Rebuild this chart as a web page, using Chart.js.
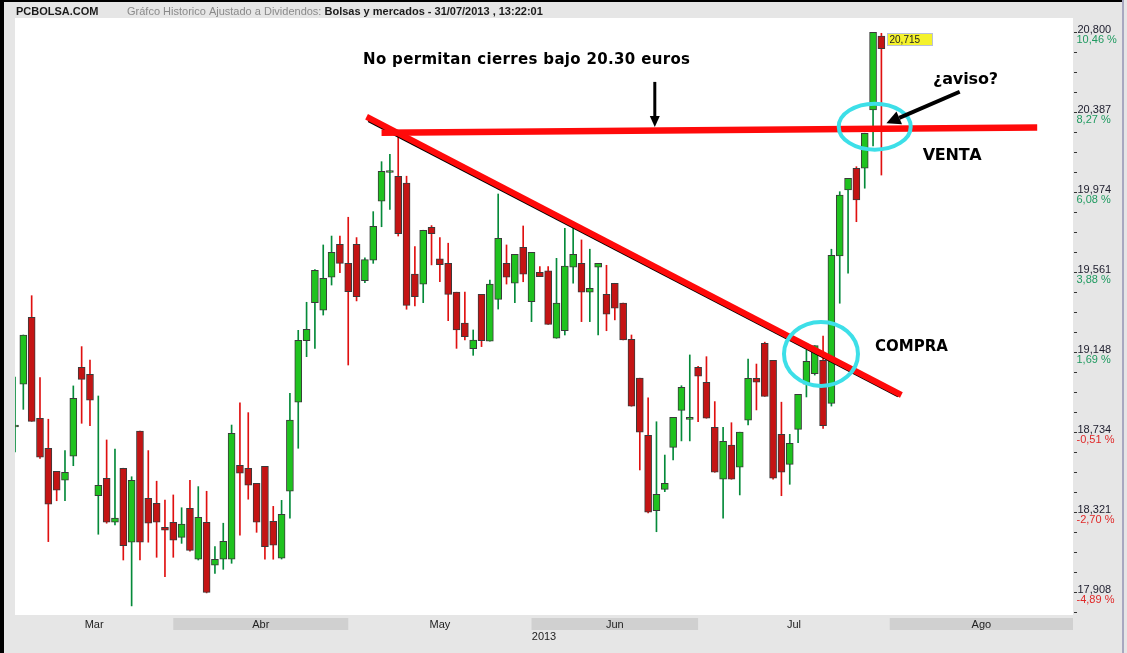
<!DOCTYPE html>
<html>
<head>
<meta charset="utf-8">
<script src="https://cdn.jsdelivr.net/npm/chart.js@4.4.0/dist/chart.umd.min.js"></script>
<style>
  html, body { margin: 0; padding: 0; background: #e6e6e6; }
  canvas { display: block; }
</style>
</head>
<body>
<canvas id="chart" width="1127" height="653"></canvas>
<script>
// ================= Data =================
// one candle per trading day, 4 Mar 2013 .. 31 Jul 2013
const opens = [
  18.762, 18.983, 19.328, 18.807, 18.652, 18.533, 18.487, 18.611, 19.070, 19.034,
  18.407, 18.497, 18.270, 18.549, 18.167, 18.741, 18.394, 18.368, 18.244, 18.270,
  18.192, 18.342, 18.079, 18.270, 18.048, 18.079, 18.079, 18.564, 18.549, 18.471,
  18.559, 18.275, 18.084, 18.430, 18.890, 19.208, 19.404, 19.365, 19.535, 19.705,
  19.607, 19.705, 19.518, 19.624, 19.928, 20.076, 20.057, 20.022, 19.551, 19.499,
  19.793, 19.630, 19.607, 19.458, 19.299, 19.166, 19.447, 19.205, 19.421, 19.607,
  19.504, 19.690, 19.409, 19.561, 19.568, 19.220, 19.259, 19.587, 19.607, 19.458,
  19.587, 19.447, 19.504, 19.402, 19.215, 19.014, 18.719, 18.330, 18.440, 18.657,
  18.848, 18.801, 19.070, 18.993, 18.760, 18.492, 18.668, 18.554, 18.797, 19.013,
  19.194, 19.106, 18.724, 18.569, 18.750, 18.983, 19.037, 19.106, 18.884, 19.645,
  19.986, 20.098, 20.098, 20.399, 20.781
];
const highs = [
  19.020, 19.237, 19.440, 19.017, 18.802, 18.533, 18.640, 18.974, 19.177, 19.108,
  18.922, 18.695, 18.648, 18.549, 18.505, 18.741, 18.640, 18.482, 18.385, 18.411,
  18.345, 18.487, 18.454, 18.430, 18.144, 18.265, 18.772, 18.887, 18.836, 18.471,
  18.559, 18.352, 18.383, 18.936, 19.261, 19.406, 19.575, 19.702, 19.748, 19.748,
  19.845, 19.740, 19.635, 19.874, 20.132, 20.170, 20.275, 20.057, 19.693, 19.778,
  19.802, 19.740, 19.711, 19.458, 19.458, 19.263, 19.447, 19.521, 19.965, 19.702,
  19.654, 19.800, 19.664, 19.590, 19.590, 19.633, 19.788, 19.788, 19.728, 19.680,
  19.607, 19.597, 19.504, 19.402, 19.237, 19.014, 18.913, 18.789, 18.617, 18.812,
  18.975, 19.134, 19.075, 19.125, 18.893, 18.760, 18.784, 18.735, 19.113, 19.087,
  19.200, 19.106, 18.890, 18.724, 18.931, 19.160, 19.182, 19.232, 19.680, 19.977,
  20.046, 20.106, 20.279, 20.800, 20.795
];
const lows = [
  18.633, 18.853, 18.791, 18.600, 18.170, 18.381, 18.381, 18.562, 18.781, 18.769,
  18.208, 18.265, 18.256, 18.075, 17.838, 18.075, 18.167, 18.089, 17.989, 18.089,
  18.161, 18.120, 18.075, 17.905, 18.006, 18.027, 18.058, 18.203, 18.389, 18.218,
  18.079, 18.079, 18.080, 18.291, 18.652, 19.125, 19.168, 19.340, 19.495, 19.559,
  19.082, 19.413, 19.507, 19.607, 19.796, 19.886, 19.748, 19.370, 19.387, 19.404,
  19.599, 19.512, 19.311, 19.168, 19.211, 19.132, 19.177, 19.205, 19.371, 19.500,
  19.404, 19.512, 19.306, 19.538, 19.292, 19.220, 19.237, 19.504, 19.306, 19.306,
  19.237, 19.259, 19.315, 19.211, 18.869, 18.540, 18.318, 18.221, 18.428, 18.592,
  18.690, 18.690, 18.789, 18.807, 18.528, 18.291, 18.492, 18.411, 18.772, 18.850,
  18.920, 18.492, 18.407, 18.466, 18.681, 18.917, 19.030, 18.755, 18.870, 19.401,
  19.556, 19.822, 19.995, 20.213, 20.063
];
const closes = [
  18.764, 19.237, 18.791, 18.606, 18.363, 18.435, 18.528, 18.910, 19.008, 18.900,
  18.461, 18.270, 18.291, 18.149, 18.487, 18.167, 18.265, 18.270, 18.229, 18.177,
  18.260, 18.125, 18.296, 17.908, 18.079, 18.172, 18.729, 18.523, 18.461, 18.270,
  18.144, 18.151, 18.311, 18.797, 19.210, 19.266, 19.571, 19.530, 19.664, 19.607,
  19.461, 19.435, 19.626, 19.798, 20.082, 20.084, 19.760, 19.390, 19.435, 19.778,
  19.760, 19.600, 19.447, 19.263, 19.228, 19.211, 19.208, 19.500, 19.736, 19.535,
  19.654, 19.551, 19.664, 19.538, 19.292, 19.402, 19.593, 19.654, 19.458, 19.478,
  19.607, 19.344, 19.375, 19.211, 18.869, 18.735, 18.322, 18.414, 18.471, 18.812,
  18.967, 18.808, 19.024, 18.807, 18.528, 18.688, 18.492, 18.735, 19.013, 18.993,
  18.920, 18.497, 18.528, 18.678, 18.931, 19.101, 19.182, 18.769, 19.649, 19.960,
  20.046, 19.934, 20.279, 20.800, 20.715
];

// x axis: month names and index of first trading day of each month (Aug is empty)
const monthNames = ['Mar', 'Abr', 'May', 'Jun', 'Jul', 'Ago'];
const monthStarts = [0, 19, 40, 62, 82, 105];
const axisEnd = 127;
const yearLabel = '2013';

// right axis labels: price and % vs reference price
const tickValues = [20.800, 20.387, 19.974, 19.561, 19.148, 18.734, 18.321, 17.908];
const tickPcts = [10.46, 8.27, 6.08, 3.88, 1.69, -0.51, -2.70, -4.89];

// hand drawn annotations (in index / price units)
const resistLine = [{ x: 44.0, y: 20.282 }, { x: 122.7, y: 20.308 }];
const trendLine = [{ x: 42.2, y: 20.364 }, { x: 106.4, y: 18.927 }];
const trendLineOrig = [{ x: 42.4, y: 20.342 }, { x: 106.0, y: 18.920 }];

const noteTexts = [
  { text: 'No permitan cierres bajo 20.30 euros', x: 61.4, y: 20.657, size: 15, width: 327 },
  { text: '¿aviso?', x: 114.1, y: 20.554, size: 16, width: 65 },
  { text: 'VENTA', x: 112.5, y: 20.161, size: 16, width: 59 },
  { text: 'COMPRA', x: 107.6, y: 19.175, size: 15, width: 73 }
];
const noteArrows = [
  { from: [76.8, 20.544], to: [76.8, 20.311], w: 3, head: 11, half: 5 },
  { from: [113.4, 20.493], to: [104.6, 20.330], w: 4, head: 14, half: 7 }
];
const noteEllipses = [
  { x: 103.2, y: 20.313, rx: 36, ry: 23 },
  { x: 96.75, y: 19.139, rx: 37, ry: 32 }
];
const lastLabel = { x: 104.7, y: 20.766 };

// ================= Helpers =================
const UP_BODY = '#1fc21f', DN_BODY = '#c41414';
const UP_WICK = '#058a3a', DN_WICK = '#e01010';
const FONT = '"Liberation Sans", Arial, sans-serif';
const NOTE_FONT = '"DejaVu Sans", Verdana, sans-serif';

function fmt(v, d) {
  return v.toFixed(d).replace('.', ',');
}

function isUp(i) {
  return closes[i] >= opens[i];
}

function spacedText(ctx, str, cx, cy, width) {
  const chars = [...str];
  const natural = chars.reduce((s, c) => s + ctx.measureText(c).width, 0);
  const gap = chars.length > 1 ? (width - natural) / (chars.length - 1) : 0;
  let xx = cx - width / 2;
  ctx.textAlign = 'left';
  chars.forEach(c => {
    ctx.fillText(c, xx, cy);
    xx += ctx.measureText(c).width + gap;
  });
}

function arrow(ctx, x0, y0, x1, y1, w, head, half) {
  const ang = Math.atan2(y1 - y0, x1 - x0);
  const bx = x1 - head * Math.cos(ang), by = y1 - head * Math.sin(ang);
  ctx.lineWidth = w;
  ctx.beginPath();
  ctx.moveTo(x0, y0);
  ctx.lineTo(bx, by);
  ctx.stroke();
  ctx.beginPath();
  ctx.moveTo(x1, y1);
  ctx.lineTo(bx + half * Math.sin(ang), by - half * Math.cos(ang));
  ctx.lineTo(bx - half * Math.sin(ang), by + half * Math.cos(ang));
  ctx.closePath();
  ctx.fill();
}

// ================= Plugin: frame, axes, notes =================
const decor = {
  id: 'decor',
  beforeDraw(chart) {
    const { ctx, chartArea: a, scales: { x, y } } = chart;
    const W = chart.width, H = chart.height;
    ctx.save();
    ctx.fillStyle = '#e6e6e6';
    ctx.fillRect(0, 0, W, H);
    ctx.fillStyle = '#ffffff';
    ctx.fillRect(Math.floor(a.left), a.top, Math.ceil(a.right - a.left), a.bottom - a.top);

    // borders
    ctx.fillStyle = '#000';
    ctx.fillRect(0, 0, 4, H);
    ctx.fillRect(0, 0, W - 5, 2);
    ctx.fillStyle = '#a8a8c0';
    ctx.fillRect(W - 5, 0, 2, H);

    // header
    ctx.textBaseline = 'alphabetic';
    ctx.textAlign = 'left';
    ctx.font = 'bold 11px ' + FONT;
    ctx.fillStyle = '#1a1a1a';
    ctx.fillText('PCBOLSA.COM', 16, 15);
    ctx.font = '11px ' + FONT;
    ctx.fillStyle = '#8a8a8a';
    const t1 = 'Gráfco Historico Ajustado a Dividendos: ';
    ctx.fillText(t1, 127, 15);
    const w1 = ctx.measureText(t1).width;
    ctx.font = 'bold 11px ' + FONT;
    ctx.fillStyle = '#1a1a1a';
    ctx.fillText('Bolsas y mercados - 31/07/2013 , 13:22:01', 127 + w1, 15);

    // month bands
    ctx.textAlign = 'center';
    ctx.textBaseline = 'middle';
    monthNames.forEach((m, k) => {
      const x0 = x.getPixelForValue(monthStarts[k]);
      const x1 = x.getPixelForValue(k + 1 < monthStarts.length ? monthStarts[k + 1] : axisEnd);
      if (k % 2 === 1) {
        ctx.fillStyle = '#d0d0d0';
        ctx.fillRect(x0, a.bottom + 3, x1 - x0, 12);
      }
      ctx.fillStyle = '#222';
      ctx.font = '11px ' + FONT;
      ctx.fillText(m, (x0 + x1) / 2, a.bottom + 9.5);
    });
    ctx.fillText(yearLabel, x.getPixelForValue(axisEnd / 2), a.bottom + 21.5);

    // right price axis
    const step = (tickValues[0] - tickValues[1]) / 4;
    ctx.strokeStyle = '#333';
    ctx.lineWidth = 1;
    tickValues.forEach((t, k) => {
      for (let j = -3; j <= 3; j++) {
        const py = Math.round(y.getPixelForValue(t + j * step)) + 0.5;
        if (py < a.top + 2 || py > a.bottom + 1) continue;
        ctx.beginPath();
        ctx.moveTo(a.right + 1, py);
        ctx.lineTo(a.right + 4, py);
        ctx.stroke();
      }
      const py = y.getPixelForValue(t);
      ctx.textAlign = 'left';
      ctx.textBaseline = 'alphabetic';
      ctx.font = '11px ' + FONT;
      ctx.fillStyle = '#1c1c2c';
      ctx.fillText(fmt(t, 3), a.right + 4.5, py + 1);
      ctx.fillStyle = tickPcts[k] >= 0 ? '#1f9a60' : '#e02828';
      ctx.fillText(fmt(tickPcts[k], 2) + ' %', a.right + 3.5, py + 11);
    });
    ctx.restore();
  },
  afterDatasetsDraw(chart) {
    const { ctx, scales: { x, y } } = chart;
    ctx.save();

    // ellipses
    ctx.strokeStyle = '#3ddfe8';
    ctx.lineWidth = 4;
    noteEllipses.forEach(e => {
      ctx.beginPath();
      ctx.ellipse(x.getPixelForValue(e.x), y.getPixelForValue(e.y), e.rx, e.ry, 0, 0, Math.PI * 2);
      ctx.stroke();
    });

    // arrows
    ctx.strokeStyle = '#000';
    ctx.fillStyle = '#000';
    noteArrows.forEach(n => {
      arrow(ctx,
        x.getPixelForValue(n.from[0]), y.getPixelForValue(n.from[1]),
        x.getPixelForValue(n.to[0]), y.getPixelForValue(n.to[1]), n.w, n.head, n.half);
    });

    // texts
    ctx.textBaseline = 'middle';
    noteTexts.forEach(n => {
      ctx.font = 'bold ' + n.size + 'px ' + NOTE_FONT;
      ctx.fillStyle = '#000';
      spacedText(ctx, n.text, x.getPixelForValue(n.x), y.getPixelForValue(n.y), n.width);
    });

    // last price tag
    const lx = Math.round(x.getPixelForValue(lastLabel.x)) + 0.5;
    const ly = Math.round(y.getPixelForValue(lastLabel.y)) + 0.5;
    ctx.fillStyle = '#f4f22c';
    ctx.fillRect(lx, ly - 6, 45, 12);
    ctx.strokeStyle = '#b8c0d8';
    ctx.lineWidth = 1;
    ctx.strokeRect(lx, ly - 6, 45, 12);
    ctx.fillStyle = '#222';
    ctx.font = '10px ' + FONT;
    ctx.textAlign = 'left';
    ctx.fillText(fmt(closes[closes.length - 1], 3), lx + 2, ly + 0.5);
    ctx.restore();
  }
};

// ================= Chart =================
const idx = opens.map((_, i) => i);
const wickData = idx.map(i => ({ x: i, y: [lows[i], highs[i]] }));
const bodyData = idx.map(i => ({ x: i, y: [opens[i], closes[i]] }));

new Chart(document.getElementById('chart').getContext('2d'), {
  type: 'bar',
  data: {
    datasets: [
      {
        type: 'line', data: resistLine, order: 0,
        borderColor: '#ff0a0a', borderWidth: 6.5, pointRadius: 0, borderCapStyle: 'butt'
      },
      {
        type: 'line', data: trendLine, order: 0,
        borderColor: '#ff0a0a', borderWidth: 6, pointRadius: 0, borderCapStyle: 'butt'
      },
      {
        type: 'line', data: trendLineOrig, order: 1,
        borderColor: '#000', borderWidth: 2, pointRadius: 0
      },
      {
        data: bodyData, order: 2, grouped: false, barThickness: 7, minBarLength: 2,
        backgroundColor: c => isUp(c.dataIndex) ? UP_BODY : DN_BODY,
        borderColor: '#3a3a3a', borderWidth: 1, borderSkipped: false, clip: 0
      },
      {
        data: wickData, order: 3, grouped: false, barThickness: 1,
        backgroundColor: c => isUp(c.dataIndex) ? UP_WICK : DN_WICK,
        borderWidth: 0, clip: 0
      }
    ]
  },
  options: {
    responsive: false,
    animation: false,
    devicePixelRatio: 1,
    layout: { padding: { left: 15, right: 54, top: 18, bottom: 38 } },
    plugins: { legend: { display: false }, tooltip: { enabled: false } },
    scales: {
      x: { type: 'linear', min: 0, max: axisEnd, offset: false, display: false },
      y: { type: 'linear', min: 17.791, max: 20.874, display: false }
    }
  },
  plugins: [decor]
});
</script>
</body>
</html>
